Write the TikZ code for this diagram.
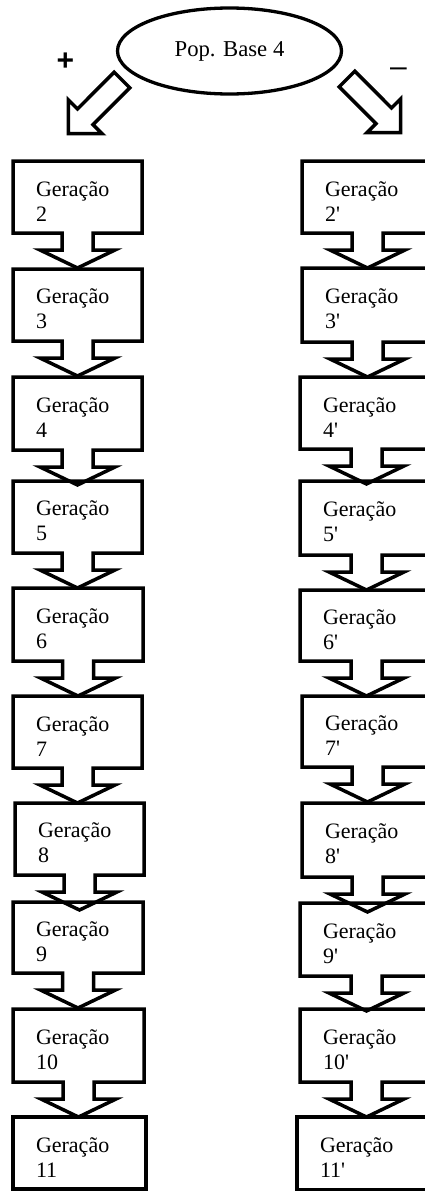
\documentclass[tikz,border=0pt]{standalone}
\usepackage{fontspec}
\setmainfont{Liberation Serif}
\newfontfamily\signfont{Liberation Sans}
\usetikzlibrary{shapes.geometric,calc}

\tikzset{
  outline/.style={line width=3.5pt, line join=miter},
  genbox/.style={rectangle, anchor=north west, inner xsep=23pt, inner ysep=0pt,
    outer sep=0pt, align=left, font=\fontsize{22}{25}\selectfont},
}

% #1 name, #2 left, #3 top, #4 right, #5 bottom, #6 generation number
\newcommand\gencallout[6]{%
  \pgfmathsetmacro\calW{#4-#2}%
  \pgfmathsetmacro\calH{#5-#3}%
  \pgfmathsetmacro\calT{#4-#2-46}%
  \node[genbox, minimum width=\calW pt, minimum height=\calH pt, text width=\calT pt]
    (#1) at (#2,#3) {\rule{0pt}{23pt}Geração\\#6};
  \draw[outline] (#1.north west) -- (#1.north east) -- (#1.south east)
    -- ($(#1.south)+(15.5,0)$) -- ($(#1.south)+(15.5,17)$)
    -- ($(#1.south)+(37.5,17)$) -- ($(#1.south)+(0,35)$)
    -- ($(#1.south)+(-37.5,17)$) -- ($(#1.south)+(-15.5,17)$)
    -- ($(#1.south)+(-15.5,0)$) -- (#1.south west) -- cycle;
}
% last generation: a plain box
\newcommand\genlast[6]{%
  \pgfmathsetmacro\calW{#4-#2}%
  \pgfmathsetmacro\calH{#5-#3}%
  \pgfmathsetmacro\calT{#4-#2-46}%
  \node[genbox, draw, outline, minimum width=\calW pt, minimum height=\calH pt, text width=\calT pt]
    (#1) at (#2,#3) {\rule{0pt}{23pt}Geração\\#6};
}
\newcommand\pr{\textquotesingle}

\begin{document}
\begin{tikzpicture}[x=1pt, y=-1pt]
\useasboundingbox (0,0) rectangle (425,1191);

% base population
\node[ellipse, draw, line width=3.3pt, minimum width=224pt, minimum height=86pt,
      inner sep=0pt, font=\fontsize{22.7}{26}\selectfont]
  (base) at (229.5,51) {Pop. Base 4\hspace{16pt}};

% signs of the two branches
\node[font=\signfont\bfseries\fontsize{30}{30}\selectfont, inner sep=0pt] (plus) at (65.5,62) {+};
\node[font=\signfont\fontsize{30}{30}\selectfont, inner sep=0pt] (minus) at (398.5,72) {–};

% hollow block arrows leaving the base population
\coordinate (ltail) at (122,80);
\coordinate (rtail) at (347,79);
\draw[outline] ($(ltail)+(7.8,7.8)$) -- ($(ltail)+(-29,44.6)$) -- ($(ltail)+(-19.8,53.7)$)
  -- ($(ltail)+(-53.7,53.7)$) -- ($(ltail)+(-53.7,19.8)$) -- ($(ltail)+(-44.5,29)$)
  -- ($(ltail)+(-7.8,-7.8)$) -- cycle;
\draw[outline] ($(rtail)+(-7.8,7.8)$) -- ($(rtail)+(29,44.6)$) -- ($(rtail)+(19.8,53.7)$)
  -- ($(rtail)+(53.7,53.7)$) -- ($(rtail)+(53.7,19.8)$) -- ($(rtail)+(44.5,29)$)
  -- ($(rtail)+(7.8,-7.8)$) -- cycle;

% "+" branch
\gencallout{g2}{13}{161}{142}{233}{2}
\gencallout{g3}{13}{269}{142}{341}{3}
\gencallout{g4}{13}{377}{142}{450}{4}
\gencallout{g5}{13}{481}{142}{553}{5}
\gencallout{g6}{13}{588}{143}{661}{6}
\gencallout{g7}{13}{696}{142}{768}{7}
\gencallout{g8}{15}{803}{144}{875}{8}
\gencallout{g9}{13}{902}{143}{973}{9}
\gencallout{g10}{13}{1009}{144}{1082}{10}
\genlast{g11}{13}{1117}{146}{1189}{11}

% "-" branch
\gencallout{h2}{302}{161}{433}{233}{2\pr}
\gencallout{h3}{302}{268}{433}{342}{3\pr}
\gencallout{h4}{300}{377}{433}{449}{4\pr}
\gencallout{h5}{300}{481}{433}{555}{5\pr}
\gencallout{h6}{300}{590}{433}{661}{6\pr}
\gencallout{h7}{302}{696}{433}{767}{7\pr}
\gencallout{h8}{302}{803}{433}{877}{8\pr}
\gencallout{h9}{300}{903}{433}{976}{9\pr}
\gencallout{h10}{300}{1009}{433}{1082}{10\pr}
\genlast{h11}{297}{1117}{433}{1190}{11\pr}
\end{tikzpicture}
\end{document}
